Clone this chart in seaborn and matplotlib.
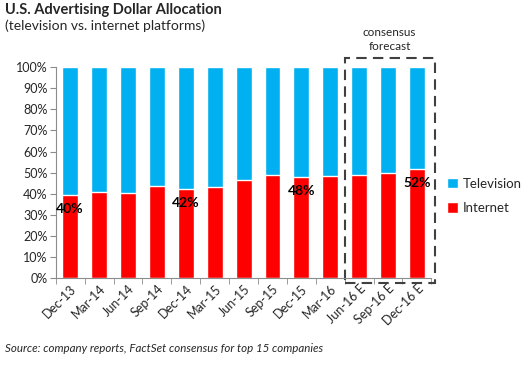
import numpy as np
import pandas as pd
import matplotlib.pyplot as plt
import seaborn as sns
from matplotlib.patches import Rectangle
from matplotlib.ticker import PercentFormatter, FixedLocator

# Datos (fracción de internet; televisión = resto)
periodos = ["Dec-13", "Mar-14", "Jun-14", "Sep-14", "Dec-14", "Mar-15", "Jun-15",
            "Sep-15", "Dec-15", "Mar-16", "Jun-16 E", "Sep-16 E", "Dec-16 E"]
internet = [0.394, 0.407, 0.403, 0.436, 0.422, 0.433, 0.466,
            0.491, 0.480, 0.485, 0.490, 0.499, 0.518]
etiquetas = {0: "40%", 4: "42%", 8: "48%", 12: "52%"}

df = pd.DataFrame({"periodo": periodos, "Internet": internet})
df["Total"] = 1.0

sns.set_style("white")
plt.rcParams["font.family"] = ["Lato", "DejaVu Sans"]

fig = plt.figure(figsize=(5.21, 3.65), dpi=100)
ax = fig.add_axes([0.107, 0.238, 0.721, 0.578])

azul = "#00B0F0"
rojo = "#FF0000"
sns.barplot(data=df, x="periodo", y="Total", color=azul, width=0.55,
            saturation=1, ax=ax, label="Television")
sns.barplot(data=df, x="periodo", y="Internet", color=rojo, width=0.55,
            saturation=1, ax=ax, label="Internet")

for i, txt in etiquetas.items():
    ax.text(i, internet[i] - 0.065, txt, ha="center", va="center",
            fontsize=10, fontweight="bold", color="black")

ax.set_ylim(0, 1)
ax.set_xlim(-0.5, len(periodos) - 0.5)
ax.set_yticks(np.arange(0, 1.01, 0.1))
ax.yaxis.set_major_formatter(PercentFormatter(1.0, decimals=0))
ax.set_xlabel("")
ax.set_ylabel("")

for s in ["top", "right"]:
    ax.spines[s].set_visible(False)
for s in ["left", "bottom"]:
    ax.spines[s].set_color("#8c8c8c")
    ax.spines[s].set_linewidth(0.8)

ax.tick_params(axis="y", length=4, color="#8c8c8c", labelsize=9, pad=2, left=True)
ax.tick_params(axis="x", which="major", length=0, labelsize=9, pad=3)
ax.xaxis.set_minor_locator(FixedLocator(np.arange(-0.5, len(periodos), 1.0)))
ax.tick_params(axis="x", which="minor", length=4, color="#8c8c8c", bottom=True)
plt.setp(ax.get_xticklabels(), rotation=45, ha="right", rotation_mode="anchor")

# recuadro del pronóstico
ax.add_patch(Rectangle((9.5, -0.024), 3.12, 1.067, fill=False, ls=(0, (5, 3)),
                       lw=1.5, ec="#404040", clip_on=False))
ax.text(11.05, 1.13, "consensus\nforecast", ha="center", va="center",
        fontsize=8.5, linespacing=1.3)

h, l = ax.get_legend_handles_labels()
ax.legend(h, l, loc="center left", bbox_to_anchor=(1.01, 0.39), frameon=False,
          fontsize=9.5, handlelength=0.8, handleheight=0.8, handletextpad=0.4,
          labelspacing=0.95)

fig.text(0.01, 0.972, "U.S. Advertising Dollar Allocation", fontsize=10.5,
         fontweight="bold", va="center")
fig.text(0.01, 0.93, "(television vs. internet platforms)", fontsize=10,
         va="center")
fig.text(0.01, 0.044, "Source: company reports, FactSet consensus for top 15 companies",
         fontsize=8.3, style="italic", va="center")

fig.savefig("out.png", dpi=100)
